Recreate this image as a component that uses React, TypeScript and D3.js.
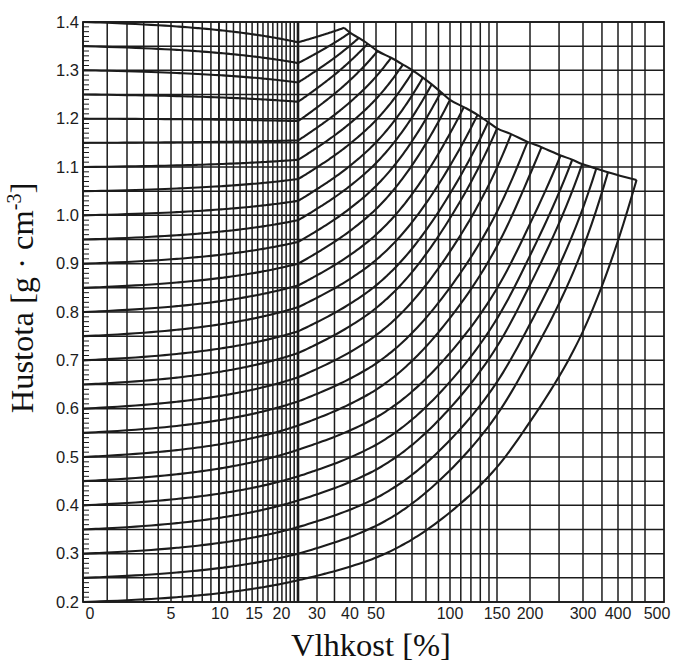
import React from "react";
import * as d3 from "d3";

// Oven-dry densities of the curve family (g/cm3), also the horizontal grid.
const RHO_DRY = [
  0.2, 0.25, 0.3, 0.35, 0.4, 0.45, 0.5, 0.55, 0.6, 0.65, 0.7, 0.75, 0.8,
  0.85, 0.9, 0.95, 1.0, 1.05, 1.1, 1.15, 1.2, 1.25, 1.3, 1.35, 1.4,
];
// Density at fibre saturation point.
const RHO_FSP = [
  0.245, 0.3, 0.355, 0.41, 0.46, 0.515, 0.565, 0.615, 0.665, 0.715, 0.76,
  0.81, 0.855, 0.9, 0.945, 0.99, 1.03, 1.075, 1.115, 1.155, 1.195, 1.235,
  1.275, 1.315, 1.358,
];
// Maximum moisture content (%) and the density reached there.
const U_SAT = [
  467, 368, 334, 298, 276, 253, 219, 196, 170, 150, 139, 127, 113, 100, 92,
  84.5, 77.7, 70.9, 64.2, 57.4, 50.7, 46.5, 43.1, 40, 38,
];
const RHO_SAT = [
  1.073, 1.089, 1.097, 1.106, 1.115, 1.124, 1.141, 1.152, 1.168, 1.18, 1.193,
  1.208, 1.224, 1.239, 1.255, 1.271, 1.285, 1.299, 1.312, 1.326, 1.34, 1.355,
  1.367, 1.378, 1.388,
];
const U_FSP = 25;

const Y_TICKS = [0.2, 0.3, 0.4, 0.5, 0.6, 0.7, 0.8, 0.9, 1.0, 1.1, 1.2, 1.3, 1.4];
const X_TICKS = [0, 5, 10, 15, 20, 30, 40, 50, 100, 150, 200, 300, 400, 500];
const X_GRID = [
  0, 1, 2, 3, 4, 5, 6, 7, 8, 9, 10, 11, 12, 13, 14, 15, 16, 17, 18, 19, 20,
  21, 22, 23, 24, 25, 30, 35, 40, 45, 50, 60, 70, 80, 90, 100, 110, 120, 130,
  140, 150, 200, 250, 300, 350, 400, 450, 500,
];

const W = 673;
const H = 671;
const INK = "#1c1c1c";

// horizontal nudges of the moisture tick labels
const LABEL_SHIFT: Record<number, number> = { 0: 7, 10: 1, 15: 2, 20: 4, 500: 12 };

// Fritsch–Carlson monotone cubic through calibration stops
function monotone(xs: number[], ys: number[]) {
  const n = xs.length;
  const d: number[] = [];
  const m: number[] = [];
  for (let i = 0; i < n - 1; i++) d[i] = (ys[i + 1] - ys[i]) / (xs[i + 1] - xs[i]);
  m[0] = d[0];
  m[n - 1] = d[n - 2];
  for (let i = 1; i < n - 1; i++) m[i] = d[i - 1] * d[i] <= 0 ? 0 : (d[i - 1] + d[i]) / 2;
  for (let i = 0; i < n - 1; i++) {
    const a = m[i] / d[i];
    const b = m[i + 1] / d[i];
    const s = a * a + b * b;
    if (s > 9) {
      const t = 3 / Math.sqrt(s);
      m[i] = t * a * d[i];
      m[i + 1] = t * b * d[i];
    }
  }
  return (v: number) => {
    const i = Math.max(0, Math.min(n - 2, d3.bisectRight(xs, v) - 1));
    const h = xs[i + 1] - xs[i];
    const t = (v - xs[i]) / h;
    const t2 = t * t;
    const t3 = t2 * t;
    return (
      (2 * t3 - 3 * t2 + 1) * ys[i] +
      (t3 - 2 * t2 + t) * h * m[i] +
      (-2 * t3 + 3 * t2) * ys[i + 1] +
      (t3 - t2) * h * m[i + 1]
    );
  };
}

export default function App() {
  const top = 22;
  const bottom = 602;
  const left = 83;
  const right = 664;

  const y = d3.scaleLinear().domain([0.2, 1.4]).range([bottom, top]);
  // moisture axis: log(u + 4) up to fibre saturation, smooth log-calibrated scale above
  const xLow = d3.scaleLog().domain([4, U_FSP + 4]).range([left, 298]);
  const stopsU = [25, 30, 40, 50, 100, 150, 200, 300, 400, 450, 500];
  const stopsX = [298, 317, 350, 376, 450, 497, 530, 583, 618, 632, 645];
  const xHighLog = monotone(stopsU.map(Math.log), stopsX);
  const x = (u: number) => (u <= U_FSP ? xLow(u + 4) : xHighLog(Math.log(u)));

  const minor = d3.range(20, 141).map((v) => v / 100);

  const line = d3
    .line<[number, number]>()
    .x((d) => x(d[0]))
    .y((d) => y(d[1]))
    .curve(d3.curveMonotoneX);

  const curves = RHO_DRY.map((r0, i) => {
    const rf = RHO_FSP[i];
    const below: [number, number][] = d3
      .range(0, U_FSP + 0.001, 0.5)
      .map((u) => [u, r0 + ((rf - r0) * u) / U_FSP]);
    const us = U_SAT[i];
    const rs = RHO_SAT[i];
    const above: [number, number][] = d3.range(1, 81).map((k) => {
      const u = U_FSP * Math.pow(us / U_FSP, k / 80);
      return [u, rf + ((rs - rf) * (u - U_FSP)) / (us - U_FSP)];
    });
    return [...below, ...above];
  });

  const envelope = U_SAT.map((u, i) => [u, RHO_SAT[i]] as [number, number]);

  return (
    <svg
      width={W}
      height={H}
      style={{ position: "absolute", left: 0, top: 0, background: "#fff" }}
    >
      <g stroke={INK} fill="none">
        {X_GRID.map((u) => (
          <line
            key={"v" + u}
            x1={x(u)}
            x2={x(u)}
            y1={top}
            y2={bottom}
            strokeWidth={u === 25 ? 2.6 : u === 10 ? 1.9 : 1.5}
          />
        ))}
        {RHO_DRY.map((r) => (
          <line key={"h" + r} x1={left} x2={right} y1={y(r)} y2={y(r)} strokeWidth={1.5} />
        ))}
        {minor.map((r) => (
          <line key={"m" + r} x1={left} x2={left + 6} y1={y(r)} y2={y(r)} strokeWidth={1} />
        ))}
        <rect x={left} y={top} width={right - left} height={bottom - top} strokeWidth={1.8} />
        {curves.map((c, i) => (
          <path key={"c" + i} d={line(c) || ""} strokeWidth={2.1} />
        ))}
        <path d={line([...envelope].reverse()) || ""} strokeWidth={2.1} />
      </g>
      <g fontFamily="Liberation Sans, Arial, sans-serif" fontSize={16.5} fill={INK}>
        {Y_TICKS.map((t) => (
          <text key={"yt" + t} x={left - 4} y={y(t)} dy="0.35em" textAnchor="end">
            {t.toFixed(1)}
          </text>
        ))}
      </g>
      <g fontFamily="Liberation Sans, Arial, sans-serif" fontSize={16} fill={INK}>
        {X_TICKS.map((t) => (
          <text
            key={"xt" + t}
            x={x(t) + (LABEL_SHIFT[t] || 0)}
            y={bottom + 17}
            textAnchor="middle"
          >
            {t}
          </text>
        ))}
      </g>
      <text
        x={371}
        y={656}
        textAnchor="middle"
        fontFamily="Liberation Serif, Times New Roman, serif"
        fontSize={32.5}
        fill="#111"
      >
        Vlhkost [%]
      </text>
      <text
        transform={`translate(33, 298) rotate(-90)`}
        textAnchor="middle"
        fontFamily="Liberation Serif, Times New Roman, serif"
        fontSize={32.5}
        fill="#111"
      >
        Hustota [g · cm
        <tspan dy={-12} fontSize={20}>-3</tspan>
        <tspan dy={12}>]</tspan>
      </text>
    </svg>
  );
}
